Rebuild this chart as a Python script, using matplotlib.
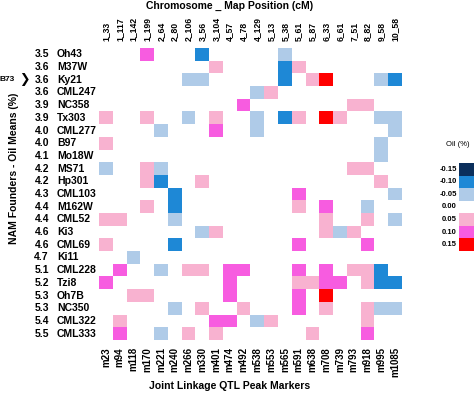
#!/usr/bin/env python

import numpy as np
import matplotlib
matplotlib.use("Agg")
from matplotlib import pyplot as plt
from matplotlib.colors import ListedColormap, BoundaryNorm
import matplotlib.transforms as mtransforms

plt.rcParams['font.family'] = ['Liberation Sans', 'DejaVu Sans']

# chromosome_position labels (top) and peak marker labels (bottom)
chrom_pos = ['1_33', '1_117', '1_142', '1_199', '2_64', '2_80', '2_106', '3_56',
             '3_104', '4_57', '4_78', '4_129', '5_13', '5_38', '5_61', '5_87',
             '6_33', '6_61', '7_51', '8_82', '9_58', '10_58']
markers = ['m23', 'm94', 'm118', 'm170', 'm221', 'm240', 'm266', 'm330',
           'm401', 'm474', 'm492', 'm538', 'm553', 'm565', 'm591', 'm638',
           'm708', 'm739', 'm793', 'm918', 'm995', 'm1085']

founders = ['Oh43', 'M37W', 'Ky21', 'CML247', 'NC358', 'Tx303', 'CML277', 'B97',
            'Mo18W', 'MS71', 'Hp301', 'CML103', 'M162W', 'CML52', 'Ki3', 'CML69',
            'Ki11', 'CML228', 'Tzi8', 'Oh7B', 'NC350', 'CML322', 'CML333']
oil_means = [3.5, 3.6, 3.6, 3.6, 3.9, 3.9, 4.0, 4.0, 4.1, 4.2, 4.2, 4.3, 4.4,
             4.4, 4.6, 4.6, 4.7, 5.1, 5.2, 5.3, 5.3, 5.4, 5.5]

# allele effects, one row per founder (column index: effect)
effects = {
    'Oh43':   {3: 0.10, 7: -0.10, 13: -0.05},
    'M37W':   {8: 0.05, 13: -0.10, 14: 0.05},
    'Ky21':   {6: -0.05, 7: -0.05, 13: -0.10, 15: 0.05, 16: 0.15, 20: -0.05, 21: -0.10},
    'CML247': {11: -0.05, 12: 0.05},
    'NC358':  {10: 0.10, 18: 0.05, 19: 0.05},
    'Tx303':  {0: 0.05, 3: 0.05, 6: -0.05, 8: 0.05, 11: -0.05, 13: -0.10, 14: 0.05,
               16: 0.15, 17: 0.05, 20: -0.05, 21: -0.05},
    'CML277': {4: -0.05, 8: 0.10, 11: -0.05, 21: -0.05},
    'B97':    {0: 0.05, 20: -0.05},
    'Mo18W':  {20: -0.05},
    'MS71':   {0: -0.05, 3: 0.05, 4: -0.05, 18: 0.05, 19: 0.05},
    'Hp301':  {3: 0.05, 4: -0.10, 7: 0.05, 20: 0.05},
    'CML103': {5: -0.10, 14: 0.10, 21: -0.05},
    'M162W':  {3: 0.05, 5: -0.10, 14: 0.05, 16: 0.10, 19: -0.05},
    'CML52':  {0: 0.05, 1: 0.05, 5: -0.05, 16: 0.05, 19: 0.05, 21: -0.05},
    'Ki3':    {7: -0.05, 8: 0.05, 16: 0.05, 17: -0.05, 18: 0.05},
    'CML69':  {0: 0.05, 5: -0.10, 14: 0.10, 19: 0.10},
    'Ki11':   {2: -0.05},
    'CML228': {1: 0.10, 4: -0.05, 6: 0.05, 7: 0.05, 9: 0.10, 10: 0.10, 14: 0.10,
               16: 0.10, 18: 0.05, 19: 0.05, 20: -0.10},
    'Tzi8':   {0: 0.10, 9: 0.10, 14: 0.05, 15: 0.05, 16: 0.10, 17: 0.10, 19: 0.05,
               20: -0.10, 21: -0.10},
    'Oh7B':   {2: 0.05, 3: 0.05, 9: 0.10, 14: 0.10, 16: 0.15},
    'NC350':  {5: -0.05, 7: 0.05, 10: 0.05, 14: 0.10, 16: 0.05, 19: 0.05,
               20: -0.05, 21: -0.05},
    'CML322': {1: 0.05, 8: 0.10, 9: 0.10, 11: -0.05, 12: 0.05, 19: 0.05},
    'CML333': {1: 0.10, 4: -0.05, 6: 0.05, 8: 0.05, 15: 0.05, 19: 0.10},
}

legend_vals = [-0.15, -0.10, -0.05, 0.00, 0.05, 0.10, 0.15]
legend_cols = ['#0b2f5c', '#1e88d6', '#afcbe8', '#ffffff', '#f8b2d0', '#f75ce0', '#ff0000']

mat = np.zeros((len(founders), len(markers)))
for i, f in enumerate(founders):
    for j, v in effects[f].items():
        mat[i, j] = v

cmap = ListedColormap(legend_cols)
bounds = np.array(legend_vals + [0.20]) - 0.025
norm = BoundaryNorm(bounds, cmap.N)

W, H = 474, 393
fig = plt.figure(figsize=(W / 100, H / 100), dpi=100)
ax = fig.add_axes([99 / W, 1 - 340 / H, 303 / W, 292 / H])
ax.imshow(mat, cmap=cmap, norm=norm, aspect='auto', interpolation='nearest')
for s in ax.spines.values():
    s.set_visible(False)

ax.set_xticks(range(len(markers)))
ax.set_xticklabels(markers, rotation=90, fontsize=7, fontweight='bold')
ax.tick_params(axis='x', length=0, pad=5)
ax.set_yticks([])

top = ax.secondary_xaxis('top')
top.set_xticks(range(len(chrom_pos)))
top.set_xticklabels(chrom_pos, rotation=90, fontsize=6.2, fontweight='bold')
top.tick_params(length=0, pad=5)
for s in top.spines.values():
    s.set_visible(False)

# founder labels: oil mean and name
trans = mtransforms.blended_transform_factory(fig.transFigure, ax.transData)
for i, (f, m) in enumerate(zip(founders, oil_means)):
    ax.text(49 / W, i, f'{m:.1f}', transform=trans, ha='right', va='center',
            fontsize=7.5, fontweight='bold')
    ax.text(57 / W, i, f, transform=trans, ha='left', va='center',
            fontsize=7.5, fontweight='bold')

b73 = founders.index('Ky21')
ax.text(-1 / W, b73, 'B73', transform=trans, ha='left', va='center',
        fontsize=6, fontweight='bold')
ax.text(19 / W, b73, '\u276f', transform=trans, ha='left', va='center',
        fontsize=9, fontweight='bold', family='DejaVu Sans')

fig.text(230 / W, 1 - 6 / H, 'Chromosome _ Map Position (cM)', ha='center',
         va='center', fontsize=7.5, fontweight='bold')
fig.text(230 / W, 1 - 386 / H, 'Joint Linkage QTL Peak Markers', ha='center',
         va='center', fontsize=7.5, fontweight='bold')
fig.text(14 / W, 1 - 168 / H, 'NAM Founders - Oil Means (%)', rotation=90,
         ha='center', va='center', fontsize=7.5, fontweight='bold')

# legend swatches
lax = fig.add_axes([459 / W, 1 - 251 / H, 20 / W, 88 / H])
lax.imshow(np.array(legend_vals).reshape(-1, 1), cmap=cmap, norm=norm,
           aspect='auto', interpolation='nearest')
lax.set_axis_off()
ltrans = mtransforms.blended_transform_factory(lax.transAxes, lax.transData)
for k, v in enumerate(legend_vals):
    lax.text(-0.12, k, f'{v:.2f}', transform=ltrans, ha='right', va='center',
             fontsize=5.5, fontweight='bold')
fig.text(458 / W, 1 - 145 / H, 'Oil (%)', ha='center', va='center', fontsize=5.5)

fig.savefig('out.png', dpi=100)
plt.close()
